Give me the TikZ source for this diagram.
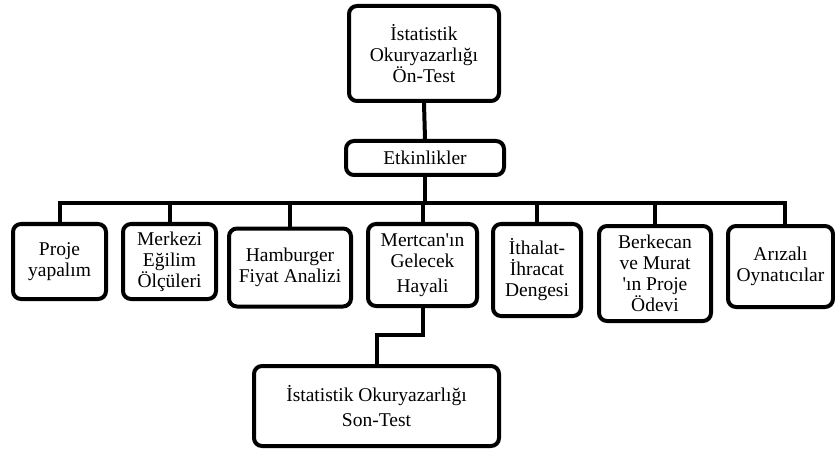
\documentclass[tikz,border=0pt]{standalone}
\usepackage{fontspec}
\setmainfont{Liberation Serif}
\begin{document}
\begin{tikzpicture}[x=1pt,y=-1pt,
  box/.style={draw, line width=4pt, rounded corners=8pt, align=center, inner sep=0pt,
    font=\fontsize{19.5}{21}\selectfont},
  conn/.style={line width=4pt}]
\useasboundingbox (0,0) rectangle (835,449);
\node[box, minimum width=150pt, minimum height=95pt] (top) at (424,53.5) {İstatistik\\Okuryazarlığı\\Ön-Test};
\node[box, minimum width=158pt, minimum height=34pt] (etk) at (425,158) {Etkinlikler};
\node[box, minimum width=93pt, minimum height=75pt] (b1) at (59.5,261.5) {Proje\\yapalım};
\node[box, minimum width=93pt, minimum height=75pt] (b2) at (169.5,261.5) {Merkezi\\Eğilim\\Ölçüleri};
\node[box, minimum width=122pt, minimum height=78pt] (b3) at (290,267.5) {Hamburger\\Fiyat Analizi};
\node[box, minimum width=109pt, minimum height=82pt] (b4) at (422.5,265) {Mertcan\textquotesingle ın\\Gelecek\\[4pt]Hayali};
\node[box, minimum width=88pt, minimum height=92pt] (b5) at (537,270) {İthalat-\\İhracat\\Dengesi};
\node[box, minimum width=112pt, minimum height=95pt] (b6) at (655,273.5) {Berkecan\\ve Murat\\\textquotesingle ın Proje\\Ödevi};
\node[box, minimum width=105pt, minimum height=81pt] (b7) at (780.5,266.5) {Arızalı\\Oynatıcılar};
\node[box, minimum width=245pt, minimum height=80pt] (bot) at (376.5,406) {İstatistik Okuryazarlığı\\[4pt]Son-Test};
\coordinate (bus) at (425,203);
\coordinate (d7) at ([xshift=4.5pt]b7.north);
\draw[conn] (top.south) -- (etk.north);
\draw[conn] (etk.south) -- (etk.south |- bus);
\draw[conn] (b1.north) -- (b1.north |- bus) -- (d7 |- bus) -- (d7);
\foreach \b in {b2,b3,b4,b5,b6} \draw[conn] (\b.north) -- (\b.north |- bus);
\draw[conn] (b4.south) -- ++(0,27) -| (bot.north);
\end{tikzpicture}
\end{document}
